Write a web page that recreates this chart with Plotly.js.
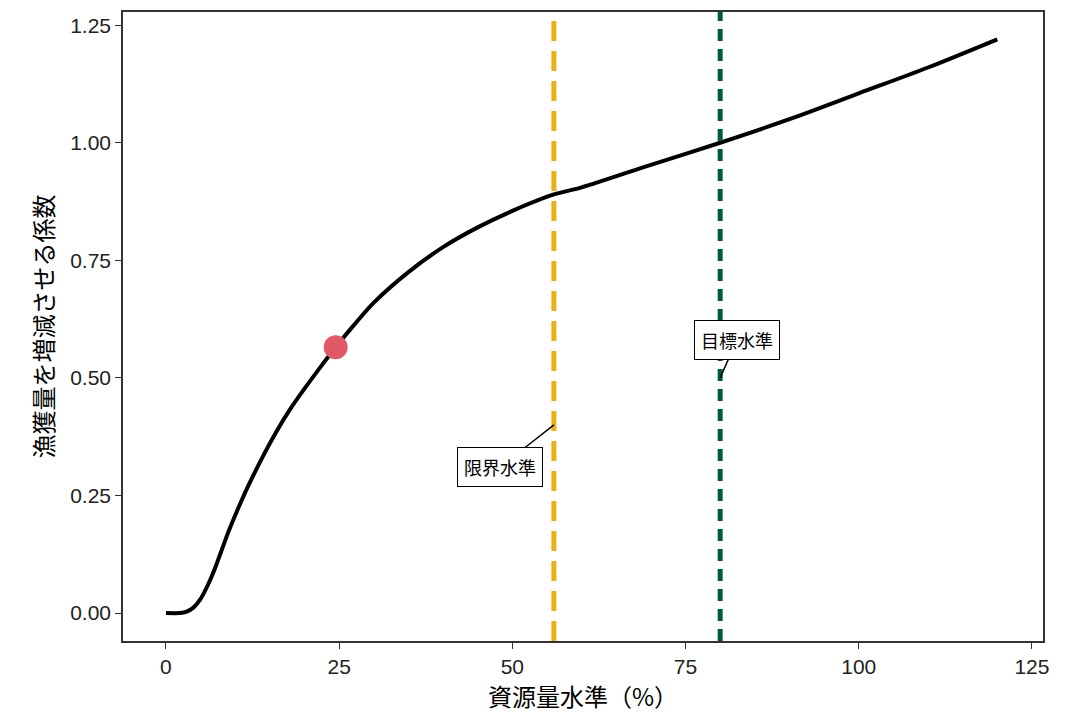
<!DOCTYPE html>
<html><head><meta charset="utf-8">
<script src="https://cdn.plot.ly/plotly-3.0.1.min.js"></script>
<style>body{margin:0}</style></head><body>
<div id="c" style="width:1066px;height:722px"></div>
<script>
const curveX = [0,2,3,4,5,6,7,8,9,10,11,12,14,16,18,20,22,24.5,27,30,35,40,45,50,56,60,70,80,90,100,110,120];
const curveY = [0,0,0.003,0.012,0.03,0.058,0.092,0.132,0.172,0.208,0.242,0.274,0.333,0.387,0.435,0.477,0.517,0.565,0.61,0.66,0.725,0.778,0.82,0.855,0.89,0.905,0.953,1.0,1.05,1.105,1.16,1.22];
const pointX = [24.5], pointY = [0.565];
const limitX = 56, targetX = 80;
const labels = ["限界水準","目標水準"];
const xTicks = [0,25,50,75,100,125];
const yTicks = [0,0.25,0.5,0.75,1.0,1.25];
const yTickText = ["0.00","0.25","0.50","0.75","1.00","1.25"];
const yr = [-0.0595,1.278];
const F = "Noto Sans CJK JP, sans-serif";
const TF = {family:"Liberation Sans, Arial, sans-serif",size:21,color:'#222'};
Plotly.newPlot('c',[
 {x:curveX,y:curveY,mode:'lines',line:{color:'black',width:4,shape:'spline',smoothing:0.8},hoverinfo:'skip'},
 {x:[limitX,limitX],y:yr,mode:'lines',line:{color:'#E8B11A',width:5,dash:'20px,10px'}},
 {x:[targetX,targetX],y:yr,mode:'lines',line:{color:'#005A40',width:5,dash:'12px,8px'}},
 {x:pointX,y:pointY,mode:'markers',marker:{color:'#E15867',size:24}}
],{
 width:1066,height:722,showlegend:false,
 paper_bgcolor:'white',plot_bgcolor:'white',
 margin:{l:123,r:23,t:12,b:81},
 font:{family:F,size:20,color:'black'},
 xaxis:{range:[-6.2,126.6],tickvals:xTicks,showgrid:false,zeroline:false,showline:true,mirror:true,linecolor:'#333',linewidth:1.5,ticks:'outside',ticklen:6,tickcolor:'#333',tickfont:TF,
   title:{text:'資源量水準（%）',font:{size:24},standoff:5}},
 yaxis:{range:yr,tickvals:yTicks,ticktext:yTickText,showgrid:false,zeroline:false,showline:true,mirror:true,linecolor:'#333',linewidth:1.5,ticks:'outside',ticklen:6,tickcolor:'#333',tickfont:TF,
   title:{text:'漁獲量を増減させる係数',font:{size:24},standoff:10}},
 annotations:[
  {x:limitX,y:0.40,ax:48.2,ay:0.31,axref:'x',ayref:'y',text:labels[0],showarrow:true,arrowhead:0,arrowwidth:1.5,arrowcolor:'black',bgcolor:'white',bordercolor:'black',borderwidth:1,borderpad:6,font:{size:18}},
  {x:targetX,y:0.50,ax:82.4,ay:0.58,axref:'x',ayref:'y',text:labels[1],showarrow:true,arrowhead:0,arrowwidth:1.5,arrowcolor:'black',bgcolor:'white',bordercolor:'black',borderwidth:1,borderpad:6,font:{size:18}}
 ]
},{displayModeBar:false});
</script></body></html>
